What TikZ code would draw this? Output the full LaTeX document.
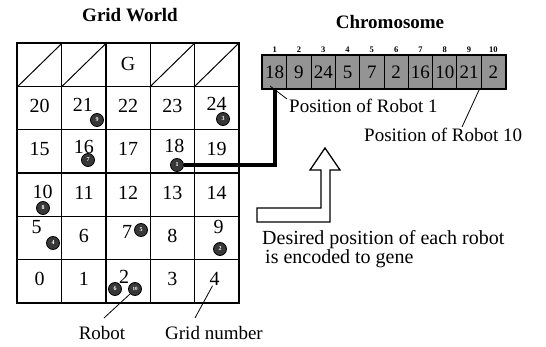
\documentclass[tikz,border=0pt]{standalone}
\usepackage{fontspec}
\setmainfont{Liberation Serif}
\begin{document}
\begin{tikzpicture}[x=1pt,y=-1pt,
  cellbox/.style={draw, line width=1.2pt, minimum width=44.2pt, minimum height=43.2pt, inner sep=0pt, anchor=north west},
  num/.style={font=\fontsize{20}{22}\selectfont, inner sep=0pt},
  lbl/.style={font=\fontsize{19}{22}\selectfont, inner sep=0pt},
  ttl/.style={font=\bfseries\fontsize{19}{22}\selectfont, inner sep=0pt},
  gene/.style={draw, line width=1pt, fill=black!42, minimum width=24.3pt, minimum height=33pt, inner sep=0pt, anchor=north west, font=\fontsize{19}{22}\selectfont},
  idx/.style={font=\bfseries\fontsize{8.5}{9}\selectfont, inner sep=0pt},
  robot/.style={circle, draw=black, line width=0.8pt, fill=black!78, minimum size=13pt, inner sep=0pt, text=white, font=\bfseries\fontsize{6}{6}\selectfont},
  pointer/.style={line width=0.8pt}
]
\useasboundingbox (0,0) rectangle (546,347);

% titles
\node[ttl] (gw) at (130,15) {Grid World};
\node[ttl] (chrom) at (390,22) {Chromosome};

% grid cells
\foreach \r in {0,...,5}{
  \foreach \c in {0,...,4}{
    \pgfmathtruncatemacro{\n}{5*\r+\c}
    \node[cellbox] (g\n) at ({17+44.2*\c},{302-43.2*(\r+1)}) {};
  }
}
\draw[line width=2pt] (g25.north west) rectangle (g4.south east);

% top row: blocked cells and goal
\foreach \n in {25,26,28,29}{
  \draw[line width=1pt] (g\n.south west) -- (g\n.north east);
}
\node[num] (goal) at ([yshift=1pt]g27.center) {G};

% grid numbers
\foreach \n/\dx/\dy in {0/0/2,1/0/2,2/-4/4,3/0/2,4/-2/2,
                       5/-3/11,6/0/2,7/-1/6,8/0/2,9/2/11,
                       10/3/3,11/0/2,12/0/2,13/0/2,14/0/2,
                       15/0/2,16/0/4,17/0/2,18/2/5,19/0/2,
                       20/0/2,21/-1/3,22/0/2,23/0/2,24/0/4}{
  \node[num] (n\n) at ([xshift=\dx pt,yshift=\dy pt]g\n.center) {\n};
}

% robots
\node[robot] (r1) at (177,165) {1};
\node[robot] (r2) at (220,249) {2};
\node[robot] (r3) at (223,119) {3};
\node[robot] (r4) at (53,243) {4};
\node[robot] (r5) at (141,230) {5};
\node[robot] (r6) at (115,289) {6};
\node[robot] (r7) at (88,160) {7};
\node[robot] (r8) at (43,208) {8};
\node[robot] (r9) at (97,120) {9};
\node[robot] (r10) at (135,289) {\fontsize{5}{5}\selectfont 10};

% chromosome
\foreach \i/\v in {1/18,2/9,3/24,4/5,5/7,6/2,7/16,8/10,9/21,10/2}{
  \node[gene] (c\i) at ({262+24.3*(\i-1)},55) {\v};
  \node[idx] (i\i) at ([yshift=5pt]c\i.north) {\i};
}
\draw[line width=1.5pt] (c1.north west) rectangle (c10.south east);

% thick connector robot 1 -> gene 1
\draw[line width=4pt] (r1.east) -| (c1.south);

% labels
\node[lbl, anchor=west] (p1) at (289,106) {Position of Robot 1};
\node[lbl, anchor=west] (p10) at (364,135) {Position of Robot 10};
\coordinate (p1s) at (270,86);
\coordinate (p1e) at (287,99);
\draw[pointer] (p1s) -- (p1e);
\coordinate (p10s) at (480,88);
\coordinate (p10e) at (462,127);
\draw[pointer] (p10s) -- (p10e);

% hollow bent arrow
\draw[line width=1.3pt, line join=miter] (325,148) -- (340,170) -- (330,170) -- (330,222) -- (257,222)
  -- (257,208) -- (321,208) -- (321,170) -- (310,170) -- cycle;

\node[lbl, anchor=west, font=\fontsize{20}{22}\selectfont] (d1) at (262,240) {Desired position of each robot};
\node[lbl, anchor=west, font=\fontsize{20}{22}\selectfont] (d2) at (265,259) {is encoded to gene};

% bottom labels
\node[lbl] (rl) at (102,333) {Robot};
\node[lbl] (gl) at (214,333) {Grid number};
\coordinate (rlt) at (104,318);
\coordinate (glt) at (195,318);
\draw[pointer] (r10.south west) -- (rlt);
\draw[pointer] ([xshift=-2pt]n4.south) -- (glt);
\end{tikzpicture}
\end{document}
